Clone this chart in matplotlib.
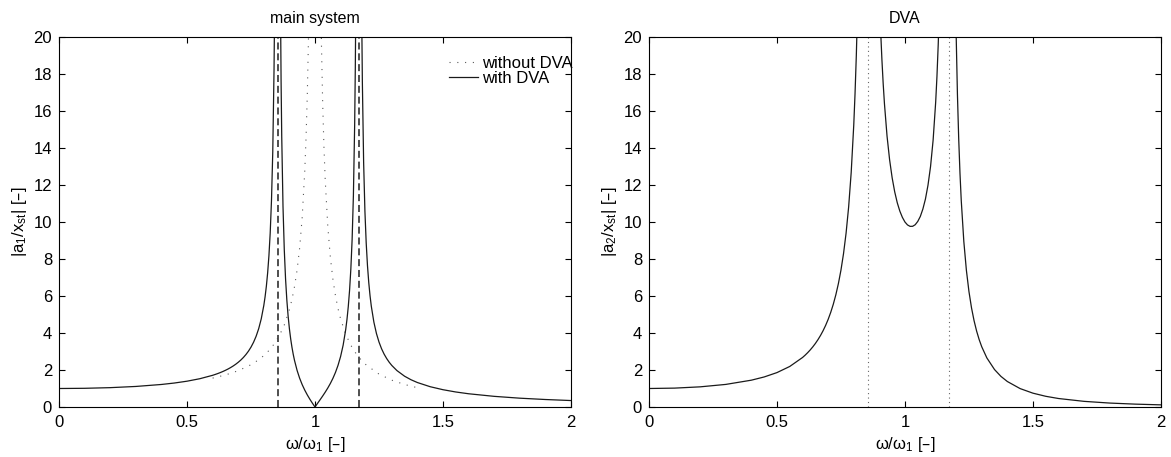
import numpy as np
import matplotlib
matplotlib.use('Agg')
import matplotlib.pyplot as plt

# frequency ratio w/w1 (shared by both panels) and amplitude ratios
w_ratio = [0, 0.1, 0.2, 0.3, 0.4, 0.45, 0.5, 0.55, 0.6, 0.61,
           0.62, 0.63, 0.64, 0.65, 0.66, 0.67, 0.68, 0.69, 0.70, 0.71,
           0.72, 0.73, 0.74, 0.75, 0.76, 0.77, 0.78, 0.79, 0.80, 0.805,
           0.81, 0.815, 0.82, 0.825, 0.83, 0.835, 0.84, 0.8425, 0.845, 0.85,
           0.86, 0.865, 0.8675, 0.87, 0.875, 0.88, 0.885, 0.89, 0.895, 0.90,
           0.905, 0.91, 0.915, 0.92, 0.93, 0.94, 0.95, 0.96, 0.97, 0.98,
           0.99, 1.00, 1.01, 1.02, 1.03, 1.04, 1.05, 1.06, 1.07, 1.08,
           1.09, 1.10, 1.11, 1.12, 1.125, 1.13, 1.135, 1.14, 1.145, 1.15,
           1.155, 1.1575, 1.16, 1.165, 1.175, 1.18, 1.1825, 1.185, 1.19, 1.195,
           1.20, 1.205, 1.21, 1.215, 1.22, 1.23, 1.24, 1.25, 1.26, 1.27,
           1.28, 1.29, 1.30, 1.32, 1.35, 1.375, 1.40, 1.45, 1.50, 1.55,
           1.60, 1.70, 1.80, 1.90, 2.00]

# |a1/xst| main mass with absorber
a1_with = [1.0, 1.011, 1.046, 1.111, 1.218, 1.295, 1.395, 1.529, 1.713, 1.759,
           1.808, 1.861, 1.919, 1.983, 2.052, 2.129, 2.214, 2.309, 2.416, 2.536,
           2.674, 2.833, 3.018, 3.237, 3.501, 3.825, 4.233, 4.765, 5.488, 5.958,
           6.531, 7.249, 8.174, 9.410, 11.16, 13.79, 18.27, 21.93, 27.55, 58.3,
           42.3, 22.02, 17.64, 14.65, 10.84, 8.499, 6.919, 5.777, 4.912, 4.232,
           3.682, 3.228, 2.844, 2.516, 1.980, 1.556, 1.208, 0.912, 0.652, 0.419,
           0.204, 0.0, 0.198, 0.395, 0.595, 0.804, 1.028, 1.273, 1.550, 1.871,
           2.255, 2.731, 3.347, 4.190, 4.743, 5.427, 6.300, 7.453, 9.050, 11.42,
           15.30, 18.36, 22.86, 41.7, 55.8, 26.62, 21.17, 17.59, 13.20, 10.59,
           8.871, 7.645, 6.728, 6.015, 5.445, 4.589, 3.975, 3.512, 3.150, 2.859,
           2.620, 2.418, 2.247, 1.970, 1.664, 1.474, 1.323, 1.097, 0.935, 0.812,
           0.716, 0.576, 0.477, 0.405, 0.349]

# |a2/xst| absorber mass
a2_dva = [1.0, 1.021, 1.090, 1.221, 1.450, 1.624, 1.860, 2.192, 2.677, 2.801,
          2.937, 3.086, 3.251, 3.433, 3.637, 3.864, 4.119, 4.408, 4.737, 5.115,
          5.552, 6.065, 6.671, 7.399, 8.288, 9.395, 10.81, 12.68, 15.24, 16.93,
          18.99, 21.59, 24.95, 29.46, 35.86, 45.56, 62.07, 75.6, 96.3, 210,
          162.6, 87.5, 71.3, 60.27, 46.23, 37.67, 31.92, 27.79, 24.68, 22.27,
          20.35, 18.78, 17.47, 16.38, 14.65, 13.37, 12.39, 11.63, 11.04, 10.59,
          10.25, 10.0, 9.842, 9.765, 9.768, 9.852, 10.03, 10.30, 10.70, 11.24,
          11.99, 13.00, 14.42, 16.47, 17.86, 19.60, 21.86, 24.88, 29.10, 35.41,
          45.81, 54.02, 66.14, 123.3, 146.6, 67.84, 53.14, 43.52, 31.72, 24.75,
          20.16, 16.91, 14.50, 12.63, 11.15, 8.946, 7.394, 6.244, 5.362, 4.665,
          4.103, 3.641, 3.256, 2.653, 2.023, 1.655, 1.378, 0.995, 0.748, 0.579,
          0.459, 0.305, 0.213, 0.155, 0.116]

# main system alone (dotted)
w_without = [0.6, 0.65, 0.7, 0.75, 0.78, 0.8, 0.82, 0.84, 0.86, 0.88,
             0.9, 0.91, 0.92, 0.93, 0.94, 0.95, 0.96, 0.965, 0.97, 0.975,
             0.98, 1.02, 1.025, 1.03, 1.035, 1.04, 1.05, 1.06, 1.07, 1.08,
             1.09, 1.1, 1.12, 1.14, 1.16, 1.18, 1.2, 1.25, 1.3, 1.35,
             1.4]
a1_without = [1.563, 1.732, 1.961, 2.286, 2.554, 2.778, 3.053, 3.397, 3.840, 4.433,
              5.263, 5.817, 6.510, 7.402, 8.591, 10.26, 12.76, 14.54, 16.92, 20.25,
              25.25, 24.75, 19.75, 16.42, 14.04, 12.25, 9.756, 8.091, 6.901, 6.010,
              5.316, 4.762, 3.931, 3.338, 2.894, 2.548, 2.273, 1.778, 1.449, 1.217,
              1.042]

# natural frequencies of the 2-dof system
res_freqs = [0.854, 1.171]

plt.rcParams['font.family'] = ['Liberation Sans', 'DejaVu Sans']
plt.rcParams['mathtext.default'] = 'regular'
plt.rcParams['font.size'] = 11


def style_axes(ax):
    ''' matlab-ish box with inward ticks on all sides '''
    ax.set_xlim(0, 2)
    ax.set_ylim(0, 20)
    ax.set_xticks([0, 0.5, 1, 1.5, 2])
    ax.set_xticklabels(['0', '0.5', '1', '1.5', '2'])
    ax.set_yticks(np.arange(0, 21, 2))
    ax.tick_params(axis='x', direction='in', top=True, length=4, width=0.8,
                   labelsize=12, pad=6)
    ax.tick_params(axis='y', direction='in', right=True, length=4, width=0.8,
                   labelsize=12, pad=5)
    for sp in ax.spines.values():
        sp.set_linewidth(0.8)
    ax.set_xlabel('ω/ω$_1$ [–]', labelpad=3, fontsize=12)


def main():
    fig = plt.figure(figsize=(11.71, 4.57), dpi=100)
    ax1 = fig.add_axes([0.0504, 0.1094, 0.4372, 0.8096])
    ax2 = fig.add_axes([0.5542, 0.1094, 0.4372, 0.8096])

    # main system
    ax1.plot(w_without, a1_without, color='0.35', linestyle=(0, (1, 6)), lw=0.8,
             label='without DVA')
    ax1.plot(w_ratio, a1_with, color='0.1', lw=0.9, label='with DVA')
    for f in res_freqs:
        ax1.axvline(f, color='0.25', linestyle=(0, (3.9, 2.1)), lw=1.3)
    style_axes(ax1)
    ax1.set_ylabel('|a$_1$/x$_{st}$| [–]', labelpad=3, fontsize=12)
    ax1.set_title('main system', fontsize=11.5, pad=10)
    ax1.legend(loc='upper right', bbox_to_anchor=(1.003, 0.95), frameon=False,
               borderaxespad=0, borderpad=0, handlelength=1.7, handletextpad=0.25,
               labelspacing=0.0, fontsize=12)

    # absorber
    ax2.plot(w_ratio, a2_dva, color='0.1', lw=0.9)
    for f in res_freqs:
        ax2.axvline(f, color='0.4', linestyle=(0, (1, 3)), lw=0.8)
    style_axes(ax2)
    ax2.set_ylabel('|a$_2$/x$_{st}$| [–]', labelpad=3, fontsize=12)
    ax2.set_title('DVA', fontsize=11.5, pad=10)

    fig.savefig('out.png', dpi=100)


if __name__ == '__main__':
    main()
